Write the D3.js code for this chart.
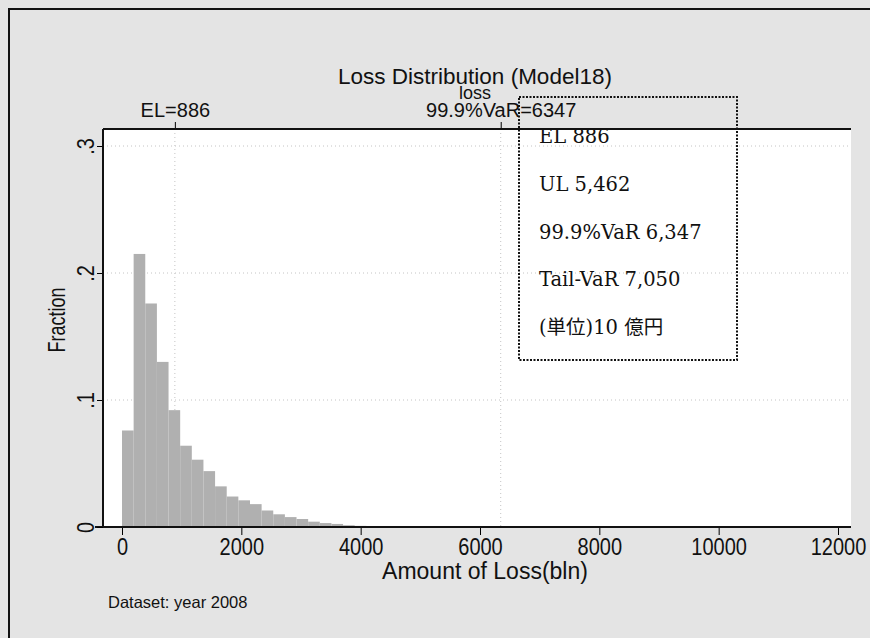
<!DOCTYPE html>
<html>
<head>
<meta charset="utf-8">
<script src="https://cdn.jsdelivr.net/npm/d3@7"></script>
<style>
  body { margin: 0; background: #fff; }
  svg text { font-family: "Liberation Sans", Arial, sans-serif; fill: #111; }
</style>
</head>
<body>
<div id="chart"></div>
<script>
// histogram of simulated loss: fraction per bin (bin width in bln)
const binWidth = 195;
const fractions = [0.076, 0.215, 0.176, 0.130, 0.092, 0.064, 0.053, 0.044, 0.032, 0.024,
                   0.021, 0.018, 0.013, 0.010, 0.0078, 0.0063, 0.0042, 0.0031, 0.0024, 0.0014,
                   0.0009, 0.0006, 0.0004, 0.0003, 0.0002, 0.0002, 0.0001, 0.0001];

const xTicks = [0, 2000, 4000, 6000, 8000, 10000, 12000];
const yTicks = [0, 0.1, 0.2, 0.3];
const yTickLabels = ["0", ".1", ".2", ".3"];

// lines marked on the top axis
const markerValues = [886, 6347];
const markerLabels = ["EL=886", "99.9%VaR=6347"];

// text box in the corner
const boxLines = ["EL 886", "UL 5,462", "99.9%VaR 6,347", "Tail-VaR 7,050", "(単位)10 億円"];

const width = 870, height = 638;

const svg = d3.select('#chart').append('svg')
    .attr('width', width)
    .attr('height', height);

// outer background and frame
svg.append('rect').attr('width', width).attr('height', height).attr('fill', '#e4e4e4');
svg.append('path')
    .attr('d', 'M9,' + height + ' L9,9 L' + width + ',9')
    .attr('fill', 'none').attr('stroke', '#111').attr('stroke-width', 2);

// plot region
const plot = { left: 103, right: 851, top: 129, bottom: 527 };
svg.append('rect')
    .attr('x', plot.left).attr('y', plot.top)
    .attr('width', plot.right - plot.left).attr('height', plot.bottom - plot.top)
    .attr('fill', '#fff');

const x = d3.scaleLinear().domain([0, 12000]).range([122, 838]);
const y = d3.scaleLinear().domain([0, 0.3]).range([527, 146]);

// grid lines (dotted, faint)
svg.append('g').selectAll('line')
    .data(yTicks.slice(1))
    .enter().append('line')
    .attr('x1', plot.left).attr('x2', plot.right)
    .attr('y1', d => y(d)).attr('y2', d => y(d))
    .attr('stroke', '#c4c4c4').attr('stroke-width', 1).attr('stroke-dasharray', '1,3');

svg.append('g').selectAll('line')
    .data(markerValues)
    .enter().append('line')
    .attr('x1', d => x(d)).attr('x2', d => x(d))
    .attr('y1', plot.top).attr('y2', plot.bottom)
    .attr('stroke', '#c4c4c4').attr('stroke-width', 1).attr('stroke-dasharray', '1,3');

// bars
svg.append('g').selectAll('rect')
    .data(fractions)
    .enter().append('rect')
    .attr('x', (d, i) => x(i * binWidth))
    .attr('width', x(binWidth) - x(0))
    .attr('y', d => y(d))
    .attr('height', d => y(0) - y(d))
    .attr('fill', '#b0b0b0');

// axes (labels a bit taller than plain Arial, like the original)
const xAxis = svg.append('g')
    .attr('transform', 'translate(0,' + plot.bottom + ')')
    .call(d3.axisBottom(x).tickValues(xTicks).tickFormat(d3.format('d')).tickSize(8));
xAxis.select('.domain').remove();
xAxis.selectAll('text')
    .attr('font-size', 20).attr('font-family', '"Liberation Sans", Arial, sans-serif')
    .attr('y', 0).attr('dy', 0)
    .attr('transform', 'translate(0,28) scale(1,1.15)');

svg.append('line')
    .attr('x1', 95).attr('x2', plot.right)
    .attr('y1', plot.bottom).attr('y2', plot.bottom)
    .attr('stroke', '#111').attr('stroke-width', 2);

const yAxis = svg.append('g')
    .attr('transform', 'translate(' + plot.left + ',0)')
    .call(d3.axisLeft(y).tickValues(yTicks).tickSize(6).tickFormat((d, i) => yTickLabels[i]));
yAxis.select('.domain').remove();
yAxis.selectAll('text')
    .attr('font-size', 20).attr('font-family', '"Liberation Sans", Arial, sans-serif')
    .attr('text-anchor', 'middle')
    .attr('x', 0).attr('dy', 0)
    .attr('transform', 'translate(-9,0) rotate(-90) scale(1,1.15)');

svg.append('line')
    .attr('x1', plot.left).attr('x2', plot.left)
    .attr('y1', plot.top).attr('y2', plot.bottom)
    .attr('stroke', '#111').attr('stroke-width', 2);

// top axis with the marker ticks
const topAxis = svg.append('g')
    .attr('transform', 'translate(0,' + plot.top + ')')
    .call(d3.axisTop(x).tickValues(markerValues).tickSize(7)
        .tickFormat((d, i) => markerLabels[i]));
topAxis.select('.domain').remove();
topAxis.selectAll('text')
    .attr('font-size', 20).attr('font-family', '"Liberation Sans", Arial, sans-serif')
    .attr('y', 0).attr('dy', 0)
    .attr('transform', 'translate(0,-12)');

svg.append('line')
    .attr('x1', plot.left).attr('x2', plot.right)
    .attr('y1', plot.top).attr('y2', plot.top)
    .attr('stroke', '#111').attr('stroke-width', 2);

// titles
svg.append('text')
    .attr('x', 475).attr('y', 84)
    .attr('text-anchor', 'middle').attr('font-size', 22.5)
    .text('Loss Distribution (Model18)');

svg.append('text')
    .attr('x', 475).attr('y', 99)
    .attr('text-anchor', 'middle').attr('font-size', 18)
    .text('loss');

svg.append('text')
    .attr('x', 485).attr('y', 579)
    .attr('text-anchor', 'middle').attr('font-size', 23)
    .text('Amount of Loss(bln)');

svg.append('text')
    .attr('transform', 'translate(65,320) rotate(-90) scale(1,1.3)')
    .attr('text-anchor', 'middle').attr('font-size', 18)
    .text('Fraction');

svg.append('text')
    .attr('x', 108).attr('y', 608)
    .attr('font-size', 16.5)
    .text('Dataset: year 2008');

// dotted text box
svg.append('rect')
    .attr('x', 519).attr('y', 97)
    .attr('width', 218).attr('height', 263)
    .attr('fill', 'none')
    .attr('stroke', '#111').attr('stroke-width', 2).attr('stroke-dasharray', '2,1.5');

svg.append('g').selectAll('text')
    .data(boxLines)
    .enter().append('text')
    .attr('x', 539)
    .attr('y', (d, i) => 143 + i * 47.8)
    .attr('font-size', 19.5)
    .style('font-family', '"DejaVu Serif", "Liberation Serif", "Noto Sans CJK JP", serif')
    .text(d => d);
</script>
</body>
</html>
